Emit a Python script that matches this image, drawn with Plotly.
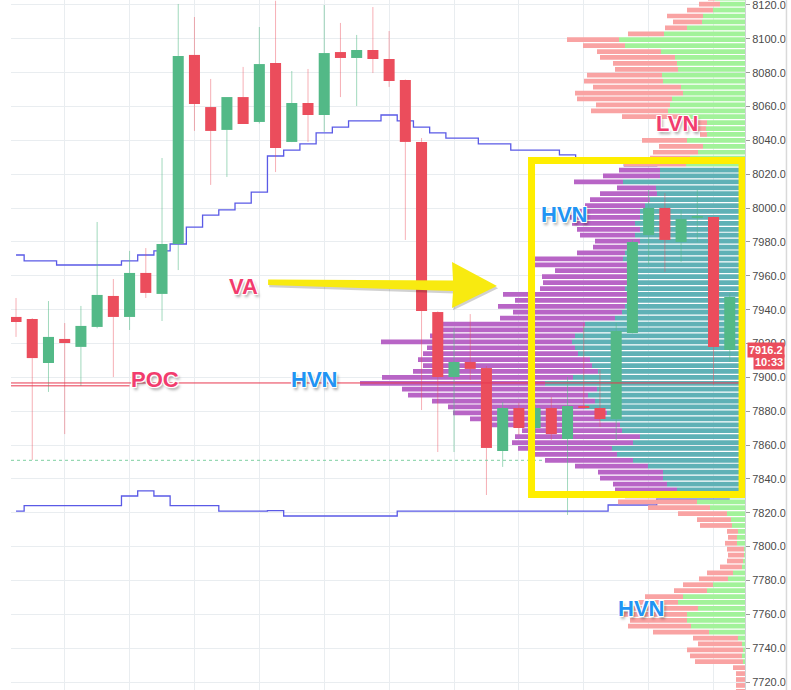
import plotly.graph_objects as go

# ---------------- candles (one per bar, left to right) ----------------
opens = [7935.7, 7934.5, 7908.5, 7922.7, 7918.0, 7929.8, 7948.1, 7935.7, 7961.7, 7949.3,
         7978.8, 8090.5, 8059.7, 8046.2, 8065.6, 8050.9, 8085.7, 8039.1, 8062.1, 8055.0,
         8092.2, 8088.7, 8093.4, 8088.1, 8075.7, 8039.1, 7938.6, 7900.2, 7909.1, 7905.5,
         7856.5, 7881.9, 7870.1, 7881.9, 7863.6, 7883.1, 7881.9, 7875.4, 7926.2, 7984.1,
         8000.1, 7980.0, 7994.2, 7994.7, 7916.2]
highs = [7946.9, 7935.0, 7945.1, 7932.1, 7942.2, 7991.8, 7958.1, 7974.7, 7976.4, 8029.6,
         8120.6, 8112.9, 8076.3, 8065.6, 8083.4, 8107.0, 8122.5, 8081.0, 8082.2, 8120.0,
         8109.4, 8102.3, 8118.8, 8104.6, 8076.0, 8041.4, 7939.0, 7929.2, 7937.4, 7906.7,
         7885.4, 7885.0, 7884.0, 7888.4, 7900.2, 7932.1, 7904.4, 7932.1, 7981.2, 8010.7,
         8008.9, 7998.9, 8010.7, 7995.0, 7949.9]
lows = [7923.9, 7851.2, 7891.4, 7866.5, 7894.9, 7929.0, 7900.2, 7928.0, 7946.9, 7933.3,
        7963.4, 8045.6, 8013.7, 8018.4, 8049.7, 8050.0, 8021.3, 8039.0, 8039.1, 8045.0,
        8065.6, 8060.3, 8079.8, 8071.6, 7981.2, 7880.7, 7855.9, 7855.9, 7898.5, 7830.5,
        7847.1, 7866.0, 7866.0, 7863.0, 7818.7, 7881.5, 7870.7, 7863.0, 7926.0, 7966.4,
        7962.3, 7968.2, 7980.0, 7895.5, 7909.1]
closes = [7932.7, 7911.4, 7923.9, 7920.3, 7930.4, 7948.7, 7935.7, 7961.7, 7949.9, 7978.8,
          8089.9, 8061.5, 8045.6, 8065.6, 8049.7, 8085.1, 8035.5, 8062.1, 8055.0, 8091.6,
          8088.7, 8093.4, 8088.1, 8075.1, 8039.1, 7939.2, 7900.2, 7909.1, 7905.0, 7858.3,
          7881.9, 7870.1, 7881.9, 7866.5, 7883.1, 7881.9, 7875.4, 7927.4, 7980.0, 8000.1,
          7981.2, 7993.6, 7995.3, 7918.0, 7947.5]

# ---------------- developing value-area lines (one value per candle) ----------------
va_high_line = [7972.3, 7968.8, 7968.8, 7966.4, 7966.4, 7966.4, 7966.4, 7968.8, 7972.3, 7974.7,
                7978.8, 7988.8, 7995.9, 7998.9, 8003.0, 8009.5, 8030.8, 8034.3, 8037.9, 8044.4,
                8047.9, 8051.5, 8051.5, 8055.0, 8051.5, 8047.9, 8044.4, 8041.4, 8041.4, 8037.9,
                8037.9, 8034.3, 8034.3, 8034.3, 8031.4, 8028.4, 8028.4, 8028.4, 8024.9, 8024.9,
                8028.4, 8028.4, 8028.4, 8028.4, 8028.4]
va_low_line = [7821.0, 7824.2, 7824.2, 7824.2, 7824.2, 7824.2, 7824.2, 7829.9, 7832.9, 7829.9,
               7824.2, 7824.2, 7824.2, 7821.0, 7821.0, 7821.0, 7821.3, 7818.1, 7818.1, 7818.1,
               7818.1, 7818.1, 7818.1, 7818.1, 7821.0, 7821.0, 7821.0, 7821.0, 7821.0, 7821.0,
               7821.0, 7821.0, 7821.0, 7821.0, 7821.0, 7821.0, 7821.0, 7824.6, 7824.6, 7824.6,
               7828.1, 7828.1, 7828.1, 7828.1, 7828.1]

# ---------------- volume profile rows (top row first) ----------------
ROW_TOP = 8124.0
ROW_SIZE = 3.5
sell_vol = [7, 21, 26, 36, 29, 22, 36, 52, 42, 64,
            75, 64, 63, 75, 79, 88, 108, 95, 74, 77,
            58, 17, 14, 7, 45, 44, 45, 40, 62, 41,
            57, 49, 39, 57, 60, 60, 65, 70, 63, 63,
            55, 45, 37, 48, 93, 98, 75, 86, 84, 85,
            125, 115, 127, 109, 115, 148, 143, 145, 191, 148,
            155, 172, 169, 185, 191, 185, 195, 180, 163, 137,
            154, 130, 130, 100, 125, 121, 94, 84, 88, 73,
            65, 63, 54, 62, 55, 79, 62, 49, 34, 32,
            11, 9, 12, 17, 16, 16, 22, 26, 29, 30,
            33, 38, 43, 76, 67, 57, 63, 56, 45, 44,
            56, 52, 48, 12, 9, 9, 9, 9]
buy_vol = [30, 25, 32, 42, 43, 58, 81, 126, 120, 84,
           70, 68, 67, 83, 82, 64, 62, 73, 75, 77,
           65, 38, 39, 38, 58, 42, 47, 55, 59, 85,
           85, 122, 89, 88, 95, 100, 105, 105, 110, 105,
           110, 105, 115, 120, 122, 117, 115, 117, 118, 120,
           117, 115, 120, 123, 130, 160, 162, 170, 173, 170,
           167, 155, 153, 147, 172, 200, 148, 157, 150, 160,
           138, 145, 125, 123, 105, 112, 133, 128, 112, 97,
           82, 82, 78, 68, 65, 48, 35, 18, 14, 13,
           7, 8, 8, 1, 1, 2, 3, 12, 17, 32,
           38, 62, 67, 47, 58, 58, 54, 36, 7, 3,
           2, 3, 2, 0, 0, 0, 0, 0]
VAH = 8022.5
VAL = 7830.0
POC = 7896.7
POC_PREV = 7895.0
LAST_PRICE = 7916.2
LAST_TIME = "10:33"
DOTTED_LEVEL = 7851.0

price_ticks = [7720 + 20 * k for k in range(21)]

# ---------------- styling ----------------
UP, DOWN = "#53b987", "#eb4d5c"
UP_WICK, DOWN_WICK = "rgba(83,185,135,0.55)", "rgba(235,77,92,0.45)"
SELL_OUT, BUY_OUT = "#f9a3a3", "#a2f29a"
SELL_IN, BUY_IN = "#b865c6", "#5fb1b6"
PINK, BLUE, YELLOW = "#f23c6e", "#2194f3", "#ffee00"
GRID = "#e9edf0"

n = len(opens)
idx = list(range(n))
row_price = [ROW_TOP - ROW_SIZE * k for k in range(len(sell_vol))]
in_va = [VAL - 0.1 <= p <= VAH + 0.1 for p in row_price]

fig = go.Figure()

# value-area step lines (base layer, behind profile)
for vals in (va_high_line, va_low_line):
    fig.add_trace(go.Scatter(x=idx, y=vals, mode="lines", line=dict(color="#5a5ae6", width=1.3, shape="hvh"),
                             hoverinfo="skip", showlegend=False, xaxis="x", yaxis="y"))

# volume profile (overlay axis x2, anchored at right edge)
fig.add_trace(go.Bar(y=row_price, x=buy_vol, base=[0] * len(buy_vol), orientation="h", width=ROW_SIZE * 0.8,
                     marker=dict(color=[BUY_IN if v else BUY_OUT for v in in_va], line=dict(width=0)),
                     xaxis="x2", yaxis="y", showlegend=False, hoverinfo="skip"))
fig.add_trace(go.Bar(y=row_price, x=sell_vol, base=buy_vol, orientation="h", width=ROW_SIZE * 0.8,
                     marker=dict(color=[SELL_IN if v else SELL_OUT for v in in_va], line=dict(width=0)),
                     xaxis="x2", yaxis="y", showlegend=False, hoverinfo="skip"))

# candles (overlay axis x3, on top)
is_up = [c >= o for o, c in zip(opens, closes)]
body_lo = [min(o, c) for o, c in zip(opens, closes)]
body_hi = [max(o, c) for o, c in zip(opens, closes)]
body_len = [h - l for h, l in zip(body_hi, body_lo)]

for flag, wcol in ((True, UP_WICK), (False, DOWN_WICK)):
    wx, wy = [], []
    for i in idx:
        if is_up[i] == flag:
            wx += [i, i, None, i, i, None]
            wy += [body_hi[i], highs[i], None, body_lo[i], lows[i], None]
    fig.add_trace(go.Scatter(x=wx, y=wy, mode="lines", line=dict(color=wcol, width=1),
                             xaxis="x3", yaxis="y", hoverinfo="skip", showlegend=False))

fig.add_trace(go.Bar(x=idx, y=body_len, base=body_lo, width=0.68,
                     marker=dict(color=[UP if u else DOWN for u in is_up], line=dict(width=0)),
                     xaxis="x3", yaxis="y", showlegend=False, hoverinfo="skip"))

XR = [-0.31, 44.94]
# POC lines and dotted level
fig.add_trace(go.Scatter(x=XR, y=[POC, POC], mode="lines", line=dict(color="#e8384f", width=1),
                         xaxis="x3", yaxis="y", hoverinfo="skip", showlegend=False))
fig.add_trace(go.Scatter(x=[XR[0], 7], y=[POC_PREV, POC_PREV], mode="lines", line=dict(color="#e8384f", width=1),
                         xaxis="x3", yaxis="y", hoverinfo="skip", showlegend=False))
fig.add_trace(go.Scatter(x=[XR[0], 32.6], y=[DOTTED_LEVEL, DOTTED_LEVEL], mode="lines",
                         line=dict(color="#7dcfa0", width=1, dash="dot"),
                         xaxis="x3", yaxis="y", hoverinfo="skip", showlegend=False))

# yellow value-area box and arrow
fig.add_shape(type="rect", xref="x", yref="y", x0=31.78, x1=44.76, y0=7830.8, y1=8028.1,
              line=dict(color=YELLOW, width=7), fillcolor="rgba(0,0,0,0)", layer="above")
arrow_pts = [(15.54, 7957.8), (26.94, 7957.2), (26.88, 7968.2), (29.65, 7954.0),
             (26.88, 7941.0), (26.94, 7951.0), (15.54, 7954.6)]
shadow_path = "M " + " L ".join(f"{x + 0.07},{y - 1.4}" for x, y in arrow_pts) + " Z"
arrow_path = "M " + " L ".join(f"{x},{y}" for x, y in arrow_pts) + " Z"
fig.add_shape(type="path", xref="x", yref="y", path=shadow_path, fillcolor="rgba(0,0,0,0.18)",
              line=dict(width=0), layer="above")
fig.add_shape(type="path", xref="x", yref="y", path=arrow_path, fillcolor="#f8ea10",
              line=dict(width=0), layer="above")
# window edge on far right
fig.add_shape(type="line", xref="paper", yref="paper", x0=1.0565, x1=1.0565, y0=0, y1=1,
              line=dict(color="#d9d9d9", width=1.5), layer="above")

shadow = ("-1px -1px 0 #fff, 1px -1px 0 #fff, -1px 1px 0 #fff, 1px 1px 0 #fff, "
          "2px 3px 3px rgba(0,0,0,0.35)")
labels = [("VA", 14.0, 7953.4, PINK), ("POC", 8.57, 7898.5, PINK), ("HVN", 18.37, 7898.5, BLUE),
          ("HVN", 33.78, 7996.5, BLUE), ("LVN", 40.75, 8049.7, PINK), ("HVN", 38.53, 7763.2, BLUE)]
for txt, x, y, col in labels:
    fig.add_annotation(x=x, y=y, xref="x", yref="y", text=f"<b>{txt}</b>", showarrow=False,
                       font=dict(family="Liberation Sans", size=22, color=col, shadow=shadow))

# last price tags
fig.add_annotation(x=1.0545, xref="paper", y=LAST_PRICE, yref="y", text=f"<b>{LAST_PRICE:.1f}</b>",
                   xanchor="right", showarrow=False, bgcolor=DOWN, borderpad=1,
                   font=dict(family="Liberation Sans", size=11, color="white"))
fig.add_annotation(x=1.0545, xref="paper", y=LAST_PRICE, yref="y", yshift=-12, text=f"<b>{LAST_TIME}</b>",
                   xanchor="right", showarrow=False, bgcolor=DOWN, borderpad=1,
                   font=dict(family="Liberation Sans", size=11, color="white"))

fig.update_layout(
    width=791, height=690, margin=dict(l=11, r=46, t=0, b=0),
    paper_bgcolor="white", plot_bgcolor="white", barmode="overlay", showlegend=False,
    xaxis=dict(range=XR, tickvals=list(range(3, 45, 4)), showticklabels=False, ticks="",
               showgrid=True, gridcolor=GRID, gridwidth=1, zeroline=False),
    xaxis2=dict(overlaying="x", range=[734, 0], visible=False),
    xaxis3=dict(overlaying="x", range=XR, visible=False),
    yaxis=dict(side="right", range=[7715.3, 8122.95], tickvals=price_ticks,
               ticktext=[f"{v:.1f}" for v in price_ticks], ticks="outside", ticklen=4,
               tickcolor="#9a9a9a", showgrid=True, gridcolor=GRID, zeroline=False,
               showline=True, linecolor="#cfd3d6", linewidth=1, ticklabeloverflow="allow",
               tickfont=dict(family="Liberation Sans", size=11, color="#4a4a4a")),
)

fig.write_html("out.html", config={"displayModeBar": False},
               post_script="document.body.style.margin='0';document.body.style.overflow='hidden';")
